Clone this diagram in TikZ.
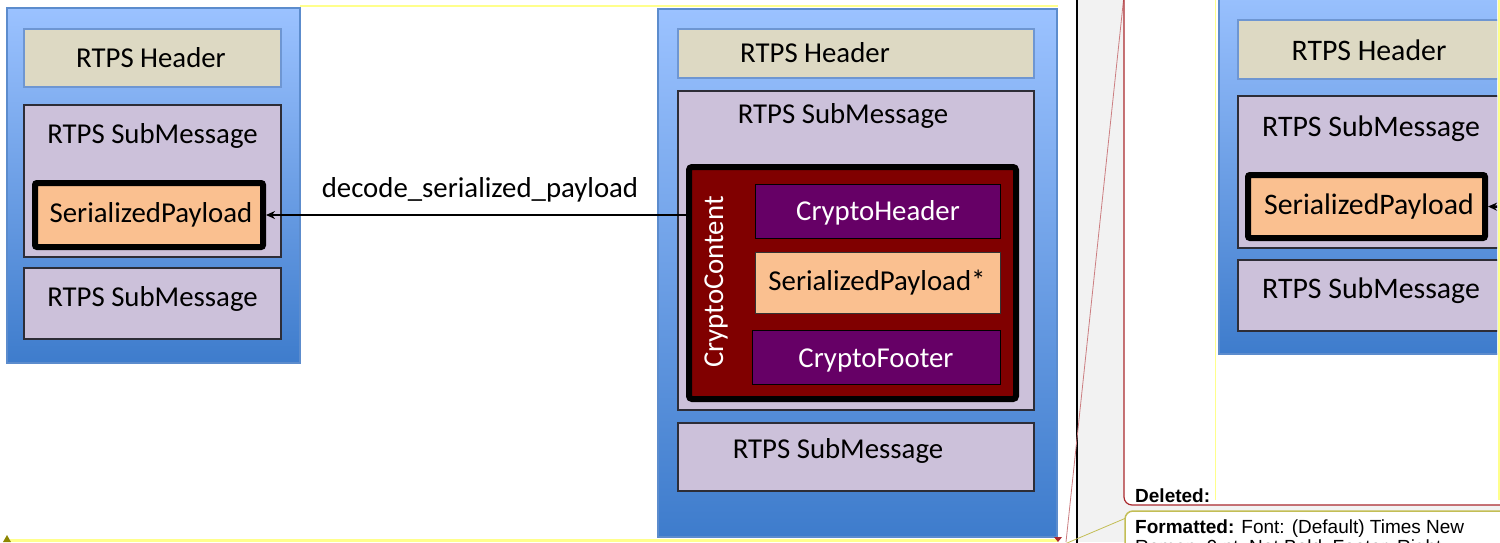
\documentclass[tikz,border=0pt]{standalone}
\usepackage{fontspec}
\setmainfont{Carlito}
\newfontfamily\markupfont{Liberation Sans}
\usepackage{tikz}
\usetikzlibrary{arrows.meta,positioning}
\definecolor{PanelTop}{RGB}{155,194,255}
\definecolor{PanelBot}{RGB}{62,124,204}
\definecolor{PanelEdge}{RGB}{92,140,205}
\definecolor{HeaderFill}{RGB}{221,217,195}
\definecolor{HeaderEdge}{RGB}{110,150,210}
\definecolor{SubFill}{RGB}{204,193,218}
\definecolor{SubEdge}{RGB}{45,45,55}
\definecolor{PayloadFill}{RGB}{250,192,144}
\definecolor{ContentFill}{RGB}{128,0,0}
\definecolor{CryptoFill}{RGB}{102,0,102}
\definecolor{PaneGrey}{RGB}{242,242,242}
\definecolor{MarkYellow}{RGB}{255,255,140}
\definecolor{MarkRed}{RGB}{170,40,45}
\definecolor{MarkOlive}{RGB}{195,190,85}
\newcommand{\msgfont}{\fontsize{28.8}{34}\selectfont}
\newcommand{\bigmsgfont}{\fontsize{29.8}{35}\selectfont}
\newcommand{\notefont}{\markupfont\fontsize{19}{20}\selectfont}

\begin{document}
\begin{tikzpicture}[
    x=1pt,y=-1pt,
    panel/.style={draw=PanelEdge, line width=1.5pt, top color=PanelTop, bottom color=PanelBot, inner sep=0pt},
    hdrbox/.style={draw=HeaderEdge, line width=1.2pt, fill=HeaderFill, inner sep=0pt},
    subbox/.style={draw=SubEdge, line width=1.2pt, fill=SubFill, inner sep=0pt},
    paybox/.style={draw=black, line width=6pt, fill=PayloadFill, rounded corners=2pt, inner sep=0pt},
    plainpay/.style={draw=black!80, line width=1pt, fill=PayloadFill, inner sep=0pt},
    contentbox/.style={draw=black, line width=6pt, fill=ContentFill, rounded corners=3pt, inner sep=0pt},
    cryptobox/.style={draw=black, line width=1pt, fill=CryptoFill, inner sep=0pt},
    msg/.style={inner sep=0pt, anchor=base, font=\msgfont},
    bigmsg/.style={inner sep=0pt, anchor=base, font=\bigmsgfont},
    note/.style={inner sep=0pt, font=\notefont},
    arrow/.style={-{Stealth[length=9pt,width=8pt]}, line width=2.5pt}
  ]
    \useasboundingbox (0,0) rectangle (1500,542);
    \clip (0,0) rectangle (1500,542);
    \fill[white] (0,0) rectangle (1500,542);
    \fill[PaneGrey] (1078,0) rectangle (1500,542);
    \draw[line width=2.2pt] (1077,-5) -- (1077,547);
    \draw[MarkRed!60, line width=0.8pt] (1066,542) -- (1123.5,0);
    \draw[MarkOlive, line width=0.8pt] (1126,518) -- (1060,546);
    \draw[MarkRed, line width=1.2pt, fill=white, rounded corners=8pt] (1124,-20) rectangle (1520,505);
    \draw[MarkOlive, line width=1.5pt, fill=white, rounded corners=8pt] (1125,511) rectangle (1520,570);
    \node[note, anchor=base west] (deltxt) at (1135,502) {\textbf{Deleted:}};
    \node[note, anchor=north west, align=left] (fmttxt) at (1135,520) {\textbf{Formatted:} Font: (Default) Times New\\Roman, 9 pt, Not Bold, Footer, Right};

    \begin{scope}
      \clip (1216,-5) rectangle (1497,500);
      \node[panel, minimum width=303, minimum height=367] (bpanel) at (1370.5,170.5) {};
      \node[hdrbox, minimum width=265, minimum height=59] (bhdr) at (1370.5,49.5) {};
      \node[subbox, minimum width=265, minimum height=152] (bsub1) at (1370.5,172) {};
      \node[paybox, minimum width=237, minimum height=63] (bpay) at (1366.5,206.5) {};
      \node[subbox, minimum width=265, minimum height=71] (bsub2) at (1370.5,295.5) {};
      \node[bigmsg] (bhdrtxt) at (1369,60) {RTPS Header};
      \node[bigmsg] (bsub1txt) at (1371,136) {RTPS SubMessage};
      \node[bigmsg] (bpaytxt) at (1369,214) {SerializedPayload};
      \node[bigmsg] (bsub2txt) at (1371,298) {RTPS SubMessage};
      \coordinate (bstub) at (1515,207);
      \draw[arrow] (bstub) -- (bpay.east);
    \end{scope}
    \draw[MarkYellow, line width=1pt] (1215,-5) -- (1215,500);
    \draw[MarkYellow, line width=2pt] (1499,-5) -- (1499,500);

    \node[panel, minimum width=293, minimum height=355] (lpanel) at (153.5,185.5) {};
    \node[hdrbox, minimum width=257, minimum height=58] (lhdr) at (152.5,58) {};
    \node[subbox, minimum width=257, minimum height=152] (lsub1) at (152.5,181) {};
    \node[paybox, minimum width=228, minimum height=64] (lpay) at (149,215) {};
    \node[subbox, minimum width=257, minimum height=71] (lsub2) at (152.5,303.5) {};
    \node[msg] (lhdrtxt) at (151,67) {RTPS Header};
    \node[msg] (lsub1txt) at (152.5,143) {RTPS SubMessage};
    \node[msg] (lpaytxt) at (151,222) {SerializedPayload};
    \node[msg] (lsub2txt) at (152.5,306) {RTPS SubMessage};

    \node[panel, minimum width=399, minimum height=528] (rpanel) at (857.5,273) {};
    \node[hdrbox, minimum width=356, minimum height=49] (rhdr) at (856,53.5) {};
    \node[subbox, minimum width=356, minimum height=319] (rsub1) at (856,250.5) {};
    \node[contentbox, minimum width=327, minimum height=232] (cc) at (852.5,283) {};
    \node[cryptobox, minimum width=245, minimum height=54] (chdr) at (877.5,211) {};
    \node[plainpay, minimum width=245, minimum height=61] (rpay) at (877.5,282.5) {};
    \node[cryptobox, minimum width=248, minimum height=54] (cftr) at (876,357) {};
    \node[subbox, minimum width=356, minimum height=68] (rsub2) at (856,457) {};
    \node[msg] (rhdrtxt) at (815,62) {RTPS Header};
    \node[msg] (rsub1txt) at (843,123) {RTPS SubMessage};
    \node[msg, text=white, rotate=90] (cctxt) at (723,282) {CryptoContent};
    \node[msg, text=white] (chdrtxt) at (878,220) {CryptoHeader};
    \node[msg] (rpaytxt) at (877,290) {SerializedPayload*};
    \node[msg, text=white] (cftrtxt) at (876,367) {CryptoFooter};
    \node[msg] (rsub2txt) at (838,458) {RTPS SubMessage};

    \draw[MarkYellow, line width=1.5pt] (300,6) -- (1058,6);
    \draw[MarkYellow, line width=2.5pt] (10,540.5) -- (1058,540.5);
    \fill[olive] (3,542) -- (11,542) -- (7,535) -- cycle;
    \fill[MarkRed] (1054,537) -- (1062,537) -- (1058,542) -- cycle;

    \draw[arrow] (cc.west |- lpay.east) -- (lpay.east);
    \node[msg] (decodetxt) at (480,197) {decode\_serialized\_payload};
  \end{tikzpicture}
\end{document}
